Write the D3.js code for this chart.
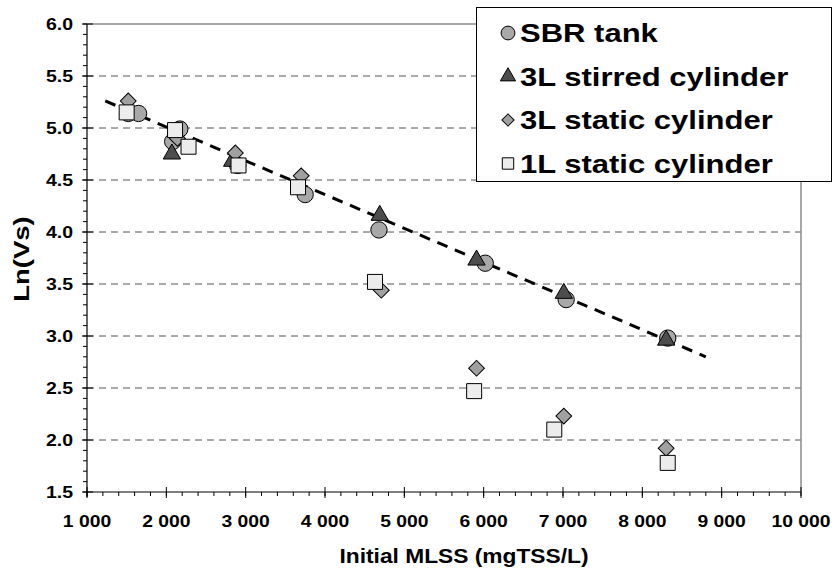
<!DOCTYPE html>
<html>
<head>
<meta charset="utf-8">
<script src="https://cdn.jsdelivr.net/npm/d3@7"></script>
<style>
  body { margin: 0; background: #fff; }
  text { font-family: Arial, "Liberation Sans", sans-serif; font-weight: bold; fill: #000; }
</style>
</head>
<body>
<svg width="834" height="572"></svg>
<script>
// series: [Initial MLSS, Ln(Vs)]
var sbrTank = [[1520, 5.14], [1650, 5.14], [2080, 4.87], [2170, 4.99], [2900, 4.64],
               [3750, 4.36], [4680, 4.02], [6020, 3.70], [7040, 3.35], [8320, 2.98]];
var stirred3L = [[2070, 4.75], [2830, 4.68], [4690, 4.16], [5910, 3.73], [7010, 3.41], [8300, 2.96]];
var static3L = [[1520, 5.26], [2140, 4.90], [2870, 4.76], [3700, 4.54], [4710, 3.44],
                [5910, 2.69], [7010, 2.23], [8300, 1.92]];
var static1L = [[1500, 5.15], [2110, 4.98], [2280, 4.82], [2910, 4.64], [3660, 4.43],
                [4630, 3.52], [5880, 2.47], [6890, 2.10], [8320, 1.78]];

// dashed trend line  y = a + b*x, drawn between these MLSS values
var trendRange = [1230, 8800];
var trendCoef = [5.66, -0.000325];

var xTicks = d3.range(1000, 10001, 1000);
var yTicks = d3.range(1.5, 6.01, 0.5);
var legendLabels = ["SBR tank", "3L stirred cylinder", "3L static cylinder", "1L static cylinder"];

var svg = d3.select("svg");
var margin = {left: 87, right: 33, top: 24, bottom: 80};
var width = 834 - margin.left - margin.right;   // 714
var height = 572 - margin.top - margin.bottom;  // 468

var x = d3.scaleLinear().domain([1000, 10000]).range([0, width]);
var y = d3.scaleLinear().domain([1.5, 6.0]).range([height, 0]);

var locale = d3.formatLocale({decimal: ".", thousands: " ", grouping: [3], currency: ["", ""]});
var fmtX = locale.format(",");
var fmtY = d3.format(".1f");

// the source font runs wider than Arial, so widen the glyphs a bit
function widen(sel, k) {
  sel.each(function() {
    var w = this.getComputedTextLength();
    d3.select(this).attr("textLength", w * k).attr("lengthAdjust", "spacingAndGlyphs");
  });
}

var g = svg.append("g")
    .attr("transform", "translate(" + margin.left + "," + margin.top + ")");

// gridlines (inner only)
g.append("g").selectAll("line")
    .data(yTicks.filter(function(d) { return d > 1.6 && d < 5.9; }))
  .enter().append("line")
    .attr("x1", 0).attr("x2", width)
    .attr("y1", function(d) { return y(d); })
    .attr("y2", function(d) { return y(d); })
    .attr("stroke", "#555")
    .attr("stroke-width", 1)
    .attr("stroke-dasharray", "7,5");

// plot border top / right
g.append("path")
    .attr("d", "M0,0H" + width + "V" + height)
    .attr("fill", "none")
    .attr("stroke", "#8c8c8c")
    .attr("stroke-width", 1.5);

// y axis
var yMinor = d3.range(15, 61, 1).map(function(d) { return d / 10; });
g.append("g").selectAll("line")
    .data(yMinor)
  .enter().append("line")
    .attr("x1", -4).attr("x2", 0)
    .attr("y1", function(d) { return y(d); })
    .attr("y2", function(d) { return y(d); })
    .attr("stroke", "#000");
g.append("g").selectAll("line")
    .data(yTicks)
  .enter().append("line")
    .attr("x1", -5).attr("x2", 6)
    .attr("y1", function(d) { return y(d); })
    .attr("y2", function(d) { return y(d); })
    .attr("stroke", "#000");
g.append("line")
    .attr("x1", 0).attr("x2", 0).attr("y1", 0).attr("y2", height + 5)
    .attr("stroke", "#000").attr("stroke-width", 1.2);
g.append("g").selectAll("text")
    .data(yTicks)
  .enter().append("text")
    .attr("x", -14)
    .attr("y", function(d) { return y(d) + 6; })
    .attr("text-anchor", "end")
    .style("font-size", "16.5px")
    .text(fmtY)
    .call(widen, 1.18);

// x axis
var xMinor = d3.range(1000, 10001, 200);
g.append("g").selectAll("line")
    .data(xMinor)
  .enter().append("line")
    .attr("x1", function(d) { return x(d); })
    .attr("x2", function(d) { return x(d); })
    .attr("y1", height).attr("y2", height + 4)
    .attr("stroke", "#000");
g.append("g").selectAll("line")
    .data(xTicks)
  .enter().append("line")
    .attr("x1", function(d) { return x(d); })
    .attr("x2", function(d) { return x(d); })
    .attr("y1", height - 5).attr("y2", height + 6)
    .attr("stroke", "#000");
g.append("line")
    .attr("x1", 0).attr("x2", width).attr("y1", height).attr("y2", height)
    .attr("stroke", "#000").attr("stroke-width", 1.2);
g.append("g").selectAll("text")
    .data(xTicks)
  .enter().append("text")
    .attr("x", function(d) { return x(d); })
    .attr("y", height + 35)
    .attr("text-anchor", "middle")
    .style("font-size", "16.5px")
    .text(fmtX)
    .call(widen, 1.17);

// axis titles
svg.append("text")
    .attr("x", 464)
    .attr("y", 563)
    .attr("text-anchor", "middle")
    .style("font-size", "20.5px")
    .text("Initial MLSS (mgTSS/L)")
    .call(widen, 1.11);
svg.append("text")
    .attr("transform", "translate(29," + (margin.top + height / 2 + 1) + ") rotate(-90)")
    .attr("text-anchor", "middle")
    .style("font-size", "22px")
    .text("Ln(Vs)")
    .call(widen, 1.25);

// trend line
g.append("line")
    .attr("x1", x(trendRange[0]))
    .attr("y1", y(trendCoef[0] + trendCoef[1] * trendRange[0]))
    .attr("x2", x(trendRange[1]))
    .attr("y2", y(trendCoef[0] + trendCoef[1] * trendRange[1]))
    .attr("stroke", "#000")
    .attr("stroke-width", 3)
    .attr("stroke-dasharray", "11,8");

// markers
var shapes = [
  {data: sbrTank,   sym: d3.symbolCircle,   size: 210, fill: "#a8a8a8"},
  {data: stirred3L, sym: d3.symbolTriangle, size: 130, fill: "#4d4d4d"},
  {data: static3L,  sym: d3.symbolSquare,   size: 125, fill: "#a0a0a0", rot: 45},
  {data: static1L,  sym: d3.symbolSquare,   size: 225, fill: "#ececec"}
];
shapes.forEach(function(s) {
  g.append("g").selectAll("path")
      .data(s.data)
    .enter().append("path")
      .attr("d", d3.symbol().type(s.sym).size(s.size)())
      .attr("transform", function(d) {
        return "translate(" + x(d[0]) + "," + y(d[1]) + ")" + (s.rot ? " rotate(" + s.rot + ")" : "");
      })
      .attr("fill", s.fill)
      .attr("stroke", "#000")
      .attr("stroke-width", 1);
});

// legend
var legendSizes = [150, 100, 75, 130];
var lg = svg.append("g");
lg.append("rect")
    .attr("x", 476.5).attr("y", 7.5).attr("width", 355).attr("height", 174)
    .attr("fill", "#fff").attr("stroke", "#000").attr("stroke-width", 1);
var rows = lg.selectAll("g.row")
    .data(legendLabels)
  .enter().append("g")
    .attr("class", "row")
    .attr("transform", function(d, i) { return "translate(508," + (33 + i * 43.5) + ")"; });
rows.append("path")
    .attr("d", function(d, i) { return d3.symbol().type(shapes[i].sym).size(legendSizes[i])(); })
    .attr("transform", function(d, i) { return shapes[i].rot ? "rotate(" + shapes[i].rot + ")" : null; })
    .attr("fill", function(d, i) { return shapes[i].fill; })
    .attr("stroke", "#000")
    .attr("stroke-width", 1);
rows.append("text")
    .attr("x", 12)
    .attr("y", 9)
    .style("font-size", "25px")
    .text(function(d) { return d; })
    .call(widen, 1.24);
</script>
</body>
</html>
